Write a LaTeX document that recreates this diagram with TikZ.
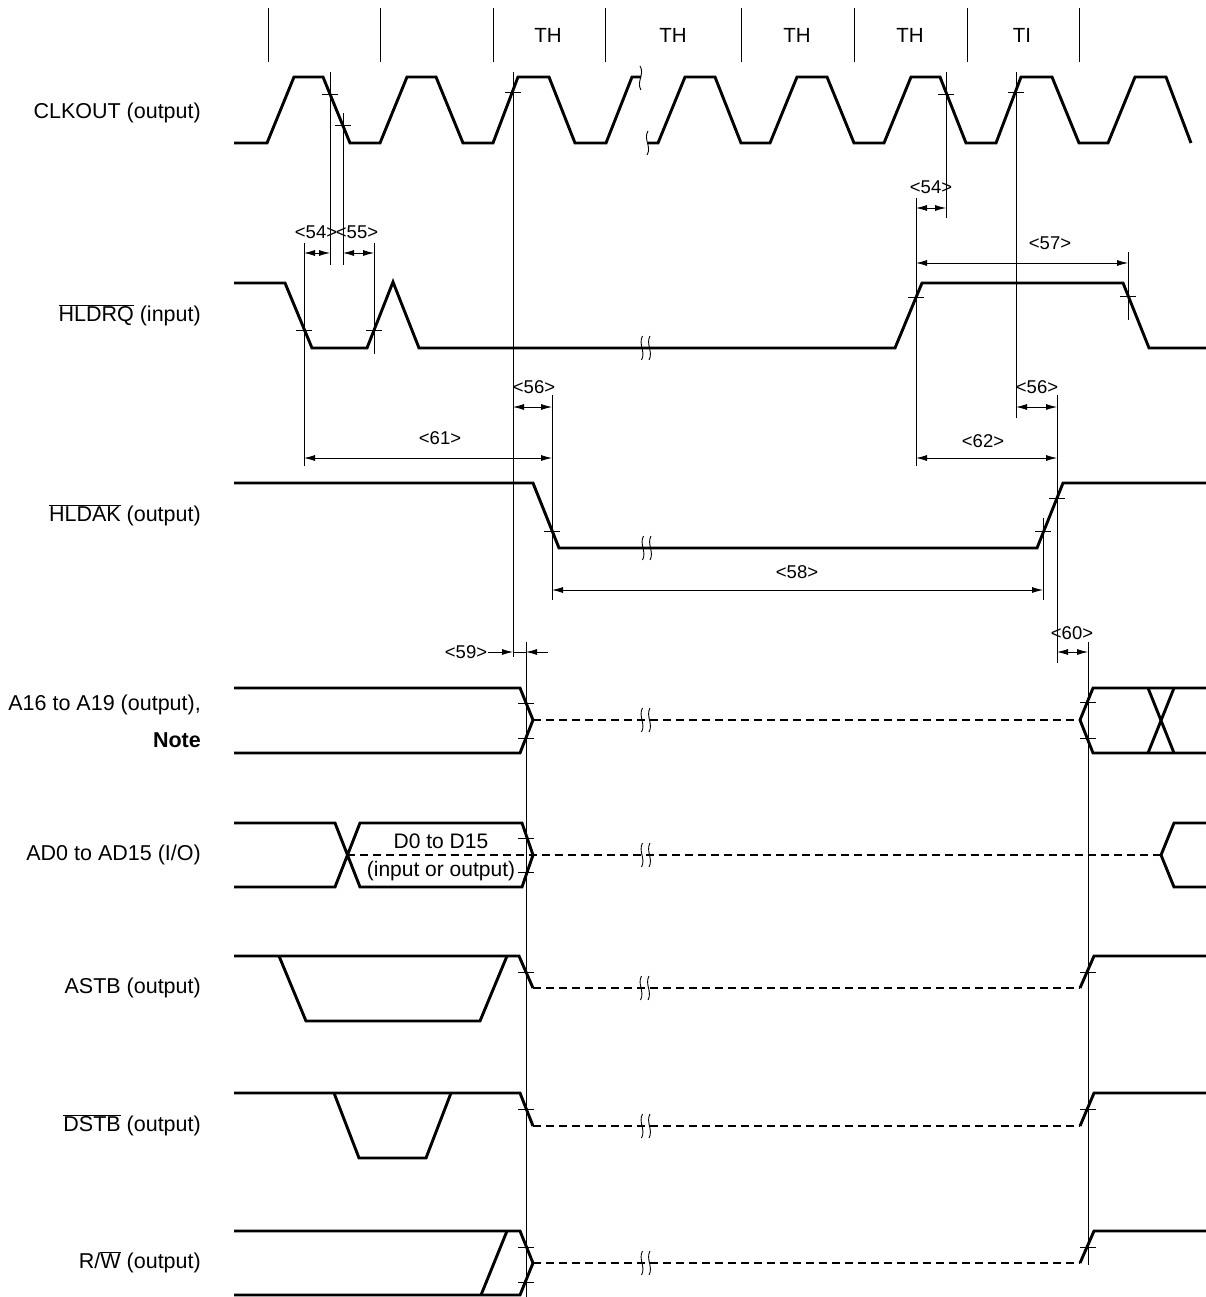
\documentclass[tikz,border=0pt]{standalone}
\usepackage{fontspec}
\setmainfont{Liberation Sans}
\usetikzlibrary{arrows.meta}
\newcommand\brkmark[2]{%
  \draw[line width=0.9pt] (#1-2.5,#2-12) .. controls (#1-7,#2-4) and (#1+1,#2+4) .. (#1-3.5,#2+12);
  \draw[line width=0.9pt] (#1+5,#2-12) .. controls (#1+0.5,#2-4) and (#1+8.5,#2+4) .. (#1+4,#2+12);}
\newcommand\tickmark[2]{\draw[tk] (#1-8,#2)--(#1+8,#2);}
\begin{document}
\begin{tikzpicture}[x=1pt,y=-1pt,
  wave/.style={line width=2.9pt},
  dwave/.style={line width=2.9pt, dash pattern=on 8pt off 5pt},
  refl/.style={line width=0.8pt},
  tk/.style={line width=0.8pt},
  dimarrow/.style={line width=0.8pt, {Latex[length=11pt,width=6pt]}-{Latex[length=11pt,width=6pt]}},
  onearrow/.style={line width=0.8pt, -{Latex[length=11pt,width=6pt]}},
  lbl/.style={font=\fontsize{21.5}{25}\selectfont, anchor=east, inner sep=0pt},
  per/.style={font=\fontsize{20.5}{23}\selectfont, inner sep=0pt},
  num/.style={font=\fontsize{18.5}{21}\selectfont, inner sep=0pt}]
\useasboundingbox (0,0) rectangle (1206,1297);

% period markers
\foreach \x in {268,380,493,605,741,854,967,1079} \draw[refl] (\x,8)--(\x,62);
\node[per] (th1) at (548,35) {TH};
\node[per] (th2) at (673,35) {TH};
\node[per] (th3) at (797,35) {TH};
\node[per] (th4) at (910,35) {TH};
\node[per] (ti1) at (1022,35) {TI};

% signal labels
\node[lbl] (lclk) at (201,113) {CLKOUT (output)};
\node[lbl] (lrq) at (201,315) {$\overline{\mbox{HLDRQ}}$ (input)};
\node[lbl] (lak) at (201,515) {$\overline{\mbox{HLDAK}}$ (output)};
\node[lbl] (la16) at (201,705) {A16 to A19 (output),};
\node[lbl] (lnote) at (201,740) {\bfseries Note};
\node[lbl] (lad) at (201,855) {AD0 to AD15 (I/O)};
\node[lbl] (lastb) at (201,988) {ASTB (output)};
\node[lbl] (ldstb) at (201,1125) {$\overline{\mbox{DSTB}}$ (output)};
\node[lbl] (lrw) at (201,1262) {R/$\overline{\mbox{W}}$ (output)};

% CLKOUT
\draw[wave] (234,143)--(267,143)--(294,77)--(323,77)--(350,143)--(380,143)--(407,77)--(436,77)--(463,143)--(493,143)--(518,77)--(549,77)--(575,143)--(606,143)--(632,77)--(641,77);
\draw[wave] (648,143)--(658,143)--(685,77)--(715,77)--(741,143)--(770,143)--(797,77)--(827,77)--(854,143)--(884,143)--(911,77)--(940,77)--(966,143)--(996,143)--(1021,77)--(1052,77)--(1079,143)--(1108,143)--(1135,77)--(1166,77)--(1191,143);
\draw[line width=0.9pt] (640,66) .. controls (645,74) and (636,82) .. (641,90);
\draw[line width=0.9pt] (648,131) .. controls (643,139) and (652,147) .. (647,155);

% HLDRQ
\draw[wave] (234,283)--(285,283)--(312,348)--(367,348)--(393,282)--(419,348)--(895,348)--(922,283)--(1123,283)--(1149,348)--(1206,348);
\brkmark{645}{348}

% HLDAK
\draw[wave] (234,483)--(533,483)--(559,548)--(1037,548)--(1063,483)--(1206,483);
\brkmark{646}{548}

% A16 to A19
\draw[wave] (234,688)--(520,688)--(533,720)--(520,753)--(234,753);
\draw[dwave] (533,720)--(1080,720);
\draw[wave] (1206,688)--(1093,688)--(1080,720)--(1093,753)--(1206,753);
\draw[wave] (1148,688)--(1174,753);
\draw[wave] (1148,753)--(1174,688);
\brkmark{645}{720}

% AD0 to AD15
\draw[wave] (234,823)--(335,823)--(360,887)--(522,887)--(533,855)--(522,823)--(360,823)--(335,887)--(234,887);
\draw[dwave] (347,855)--(1161,855);
\draw[wave] (1206,823)--(1174,823)--(1161,855)--(1174,887)--(1206,887);
\node[lbl, anchor=center, font=\fontsize{21}{24}\selectfont] (d1) at (441,841) {D0 to D15};
\node[lbl, anchor=center, font=\fontsize{21}{24}\selectfont] (d2) at (441,871) {(input or output)};
\brkmark{645}{855}

% ASTB
\draw[wave] (234,956)--(519,956)--(533,988);
\draw[wave] (279,956)--(306,1021)--(480,1021)--(507,956);
\draw[dwave] (533,988)--(1080,988);
\draw[wave] (1080,988)--(1094,956)--(1206,956);
\brkmark{644}{988}

% DSTB
\draw[wave] (234,1093)--(520,1093)--(533,1126);
\draw[wave] (334,1093)--(359,1158)--(426,1158)--(451,1093);
\draw[dwave] (533,1126)--(1080,1126);
\draw[wave] (1080,1126)--(1094,1093)--(1206,1093);
\brkmark{645}{1126}

% R/W
\draw[wave] (234,1231)--(520,1231)--(533,1263)--(520,1295)--(234,1295);
\draw[wave] (481,1295)--(507,1231);
\draw[dwave] (533,1263)--(1080,1263);
\draw[wave] (1080,1263)--(1094,1231)--(1206,1231);
\brkmark{645}{1263}

% reference lines
\draw[refl] (304,243)--(304,466);
\draw[refl] (330,72)--(330,265);
\draw[refl] (343,113)--(343,265);
\draw[refl] (374,243)--(374,354);
\draw[refl] (513,72)--(513,657);
\draw[refl] (552,395)--(552,600);
\draw[refl] (916,198)--(916,466);
\draw[refl] (946,72)--(946,218);
\draw[refl] (1016,72)--(1016,418);
\draw[refl] (1128,252)--(1128,320);
\draw[refl] (1057,395)--(1057,663);
\draw[refl] (1043,518)--(1043,600);
\draw[refl] (526,642)--(526,1297);
\draw[refl] (1088,642)--(1088,1265);

% ticks
\tickmark{330}{94}
\tickmark{343}{125}
\tickmark{513}{92}
\tickmark{946}{94}
\tickmark{1016}{92}
\tickmark{304}{330}
\tickmark{374}{330}
\tickmark{916}{297}
\tickmark{1128}{296}
\tickmark{552}{531}
\tickmark{1057}{498}
\tickmark{1043}{531}
\tickmark{526}{703}
\tickmark{526}{738}
\tickmark{1088}{702}
\tickmark{1088}{738}
\tickmark{526}{838}
\tickmark{526}{872}
\tickmark{526}{972}
\tickmark{1088}{972}
\tickmark{526}{1109}
\tickmark{1088}{1109}
\tickmark{526}{1247}
\tickmark{526}{1282}
\tickmark{1088}{1247}

% dimension arrows
\draw[dimarrow] (304,253)--(330,253);
\node[num] (n54a) at (316,232) {<54>};
\draw[dimarrow] (343,253)--(374,253);
\node[num] (n55) at (357,232) {<55>};
\draw[dimarrow] (916,208)--(946,208);
\node[num] (n54b) at (931,187) {<54>};
\draw[dimarrow] (916,263)--(1128,263);
\node[num] (n57) at (1050,243) {<57>};
\draw[dimarrow] (513,407)--(552,407);
\node[num] (n56a) at (534,387) {<56>};
\draw[dimarrow] (1016,407)--(1057,407);
\node[num] (n56b) at (1037,387) {<56>};
\draw[dimarrow] (304,458)--(552,458);
\node[num] (n61) at (440,438) {<61>};
\draw[dimarrow] (916,458)--(1057,458);
\node[num] (n62) at (983,441) {<62>};
\draw[dimarrow] (552,590)--(1043,590);
\node[num] (n58) at (797,572) {<58>};
\draw[onearrow] (488,652)--(513,652);
\draw[refl] (513,652)--(526,652);
\draw[onearrow] (548,652)--(526,652);
\node[num] (n59) at (466,652) {<59>};
\draw[dimarrow] (1057,652)--(1088,652);
\node[num] (n60) at (1072,633) {<60>};
\end{tikzpicture}
\end{document}
